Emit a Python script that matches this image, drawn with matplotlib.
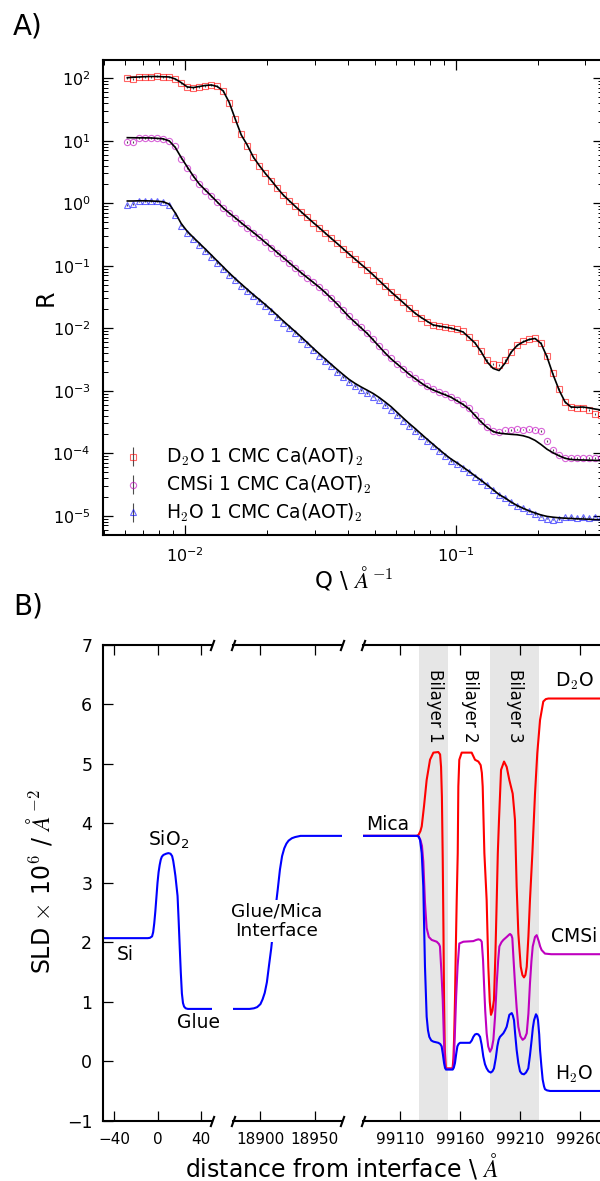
import matplotlib
matplotlib.use('Agg')
import matplotlib.pyplot as plt
from matplotlib.ticker import LogLocator, NullFormatter

plt.rcParams['font.family'] = ['DejaVu Sans']
plt.rcParams['mathtext.fontset'] = 'cm'
plt.rcParams['axes.linewidth'] = 1.5

# ---------------- A) reflectivity data (D2O x100, CMSi x10 offsets) ----------------
q = [0.006109, 0.006427, 0.006764, 0.007117, 0.007489, 0.007880, 0.008293, 0.008728, 0.009185, 0.009665,
     0.01017, 0.01070, 0.01126, 0.01185, 0.01247, 0.01312, 0.01381, 0.01453, 0.01529, 0.01609,
     0.01693, 0.01782, 0.01875, 0.01973, 0.02077, 0.02185, 0.02300, 0.02420, 0.02546, 0.02680,
     0.02820, 0.02967, 0.03122, 0.03286, 0.03457, 0.03638, 0.03828, 0.04029, 0.04240, 0.04461,
     0.04695, 0.04940, 0.05199, 0.05470, 0.05757, 0.06058, 0.06375, 0.06708, 0.07059, 0.07428,
     0.07817, 0.08226, 0.08657, 0.09109, 0.09585, 0.1009, 0.1061, 0.1117, 0.1175, 0.1237,
     0.1302, 0.1370, 0.1441, 0.1517, 0.1596, 0.1680, 0.1767, 0.1860, 0.1957, 0.2060,
     0.2167, 0.2280, 0.2400, 0.2525, 0.2657, 0.2796, 0.2942, 0.3096, 0.3258, 0.3428]

r_d2o = [101, 98.5, 105, 104, 106, 108, 105, 103, 96, 83,
         72, 70, 73, 76, 78.5, 76, 63, 40, 22, 12.6,
         8.4, 5.55, 4.0, 3.0, 2.3, 1.75, 1.36, 1.10, 0.89, 0.73,
         0.60, 0.49, 0.405, 0.335, 0.276, 0.228, 0.187, 0.154, 0.127, 0.105,
         0.087, 0.0715, 0.058, 0.0472, 0.0383, 0.0315, 0.0259, 0.0212, 0.0174, 0.0148,
         0.0128, 0.0113, 0.0109, 0.0106, 0.0102, 0.0096, 0.0089, 0.0072, 0.0058, 0.0043,
         0.0031, 0.0027, 0.0026, 0.0031, 0.0042, 0.0054, 0.0062, 0.0068, 0.0069, 0.0058,
         0.0036, 0.0019, 0.00106, 0.00066, 0.00055, 0.00054, 0.00054, 0.000493, 0.000425, 0.00041]
fit_d2o = [102.2, 103.8, 104.9, 106.1, 106.9, 106.5, 105.7, 104.9, 97.4, 85.0,
           72.6, 71.0, 73.9, 76.7, 78.1, 73.9, 62.6, 41.0, 22.3, 12.4,
           8.57, 5.51, 4.03, 3.02, 2.32, 1.76, 1.358, 1.100, 0.895, 0.729,
           0.597, 0.491, 0.407, 0.334, 0.275, 0.2274, 0.1871, 0.1539, 0.1271, 0.1053,
           0.0873, 0.0715, 0.0580, 0.0470, 0.0381, 0.0313, 0.0258, 0.0211, 0.0174, 0.0149,
           0.01294, 0.01129, 0.01084, 0.01045, 0.01004, 0.00939, 0.00873, 0.00710, 0.00580, 0.00421,
           0.00289, 0.00228, 0.00211, 0.00278, 0.00414, 0.00531, 0.00604, 0.00662, 0.00687, 0.00569,
           0.00347, 0.00182, 0.00103, 0.000662, 0.000550, 0.000545, 0.000550, 0.000532, 0.000511, 0.000493]

r_cmsi = [9.46, 9.60, 11.0, 11.2, 11.0, 10.9, 10.8, 10.1, 8.1, 5.2,
          3.7, 2.68, 2.0, 1.60, 1.29, 1.03, 0.83, 0.69, 0.58, 0.48,
          0.405, 0.339, 0.285, 0.236, 0.195, 0.162, 0.134, 0.111, 0.0925, 0.077,
          0.0648, 0.0545, 0.0458, 0.0377, 0.0307, 0.0248, 0.0196, 0.0155, 0.0127, 0.0104,
          0.0085, 0.0067, 0.0052, 0.0041, 0.0033, 0.00272, 0.00227, 0.00188, 0.0016, 0.00136,
          0.00118, 0.00106, 0.00097, 0.00089, 0.00081, 0.000705, 0.00062, 0.000525, 0.000412, 0.000325,
          0.000265, 0.000228, 0.000219, 0.000232, 0.000236, 0.000242, 0.000240, 0.000241, 0.000239, 0.000227,
          0.000157, 0.000113, 9.55e-05, 8.55e-05, 8.40e-05, 8.45e-05, 8.30e-05, 8.45e-05, 8.40e-05, 8.35e-05]
fit_cmsi = [11.21, 11.17, 11.13, 11.13, 11.09, 10.93, 10.72, 9.93, 7.81, 5.365,
            3.81, 2.734, 2.036, 1.632, 1.309, 1.049, 0.841, 0.6995, 0.586, 0.4875,
            0.4086, 0.3424, 0.2868, 0.2377, 0.1970, 0.1632, 0.1353, 0.1121, 0.0929, 0.0773,
            0.0648, 0.0543, 0.0455, 0.0374, 0.0303, 0.02447, 0.01927, 0.01516, 0.01238, 0.01011,
            0.00826, 0.00650, 0.00511, 0.00402, 0.00323, 0.00268, 0.00223, 0.00184, 0.001567, 0.001333,
            0.00115, 0.00103, 0.000939, 0.000863, 0.000787, 0.000687, 0.000604, 0.000511, 0.000402, 0.000317,
            0.000259, 0.000223, 0.000210, 0.000205, 0.000201, 0.000198, 0.000191, 0.000179, 0.000161, 0.000138,
            0.000116, 0.000102, 9.12e-05, 8.32e-05, 7.96e-05, 7.87e-05, 7.81e-05, 7.76e-05, 7.70e-05, 7.67e-05]

r_h2o = [0.939, 0.975, 1.07, 1.10, 1.08, 1.09, 1.05, 0.95, 0.64, 0.44,
         0.33, 0.265, 0.214, 0.173, 0.139, 0.111, 0.089, 0.0716, 0.0585, 0.0478,
         0.0395, 0.0326, 0.0272, 0.0227, 0.0187, 0.0152, 0.0123, 0.0101, 0.0083, 0.0068,
         0.00552, 0.00448, 0.00365, 0.00300, 0.00245, 0.00202, 0.00167, 0.00139, 0.00119, 0.00104,
         0.00092, 0.00081, 0.00070, 0.000595, 0.000500, 0.000408, 0.000333, 0.000274, 0.000228, 0.000188,
         0.000155, 0.000129, 0.000107, 8.95e-05, 7.60e-05, 6.65e-05, 5.75e-05, 4.95e-05, 4.25e-05, 3.62e-05,
         3.06e-05, 2.58e-05, 2.17e-05, 1.92e-05, 1.66e-05, 1.45e-05, 1.31e-05, 1.18e-05, 1.06e-05, 9.7e-06,
         9.0e-06, 8.7e-06, 8.9e-06, 9.4e-06, 9.6e-06, 9.2e-06, 9.5e-06, 9.3e-06, 9.7e-06, 9.4e-06]
fit_h2o = [1.088, 1.088, 1.096, 1.096, 1.088, 1.076, 1.057, 0.967, 0.6995, 0.4717,
           0.3551, 0.2847, 0.2299, 0.1857, 0.1489, 0.1193, 0.0957, 0.0767, 0.0624, 0.0511,
           0.0421, 0.0346, 0.0289, 0.0240, 0.01977, 0.01614, 0.01308, 0.01076, 0.00886, 0.00726,
           0.00591, 0.00480, 0.00392, 0.00323, 0.00265, 0.00219, 0.001816, 0.001516, 0.001308, 0.00115,
           0.001022, 0.000905, 0.000781, 0.000662, 0.000555, 0.000451, 0.000367, 0.000300, 0.000249, 0.000204,
           0.000168, 0.000139, 0.000115, 9.57e-05, 8.08e-05, 7.00e-05, 6.01e-05, 5.13e-05, 4.35e-05, 3.70e-05,
           3.11e-05, 2.61e-05, 2.19e-05, 1.93e-05, 1.66e-05, 1.46e-05, 1.32e-05, 1.20e-05, 1.11e-05, 1.03e-05,
           9.78e-06, 9.50e-06, 9.29e-06, 9.15e-06, 9.05e-06, 8.95e-06, 8.89e-06, 8.79e-06, 8.69e-06, 8.63e-06]

rel_err = 0.03  # error bars are tiny, roughly 3 %

legend_labels = [r'D$_2$O 1 CMC Ca(AOT)$_2$', r'CMSi 1 CMC Ca(AOT)$_2$', r'H$_2$O 1 CMC Ca(AOT)$_2$']

# ---------------- B) SLD profiles ----------------
# Si / SiO2 / glue (same for every contrast, only the H2O line shows on top)
sub_z = [-50, -20, -9, -7, -5, -4, -3, -2, -1, 0,
         1, 2, 3, 4, 5.5, 8, 10, 12, 13.5, 14.5,
         15.5, 16.5, 17.5, 18.5, 19.5, 20.5, 21.5, 22.5, 23.5, 24.5,
         26, 28, 50]
sub_sld = [2.07, 2.07, 2.07, 2.075, 2.10, 2.17, 2.32, 2.52, 2.76, 3.00,
           3.18, 3.30, 3.39, 3.44, 3.47, 3.49, 3.50, 3.49, 3.45, 3.37,
           3.25, 3.12, 2.95, 2.78, 2.37, 1.92, 1.49, 1.14, 0.98, 0.92,
           0.89, 0.88, 0.88]

# glue / mica interface
glue_z = [18875, 18890, 18894, 18897, 18900, 18902, 18904, 18906, 18908, 18910,
          18912, 18914, 18916, 18918, 18920, 18922, 18924, 18926, 18929, 18932,
          18937, 18975]
glue_sld = [0.88, 0.88, 0.89, 0.91, 0.96, 1.04, 1.15, 1.33, 1.62, 1.90,
            2.25, 2.58, 2.89, 3.22, 3.45, 3.58, 3.66, 3.71, 3.75, 3.77,
            3.79, 3.79]

# mica / bilayers / solvent
d2o_z = [99079, 99124, 99125.5, 99127, 99128.1, 99130, 99132.2, 99135, 99137.8, 99141.9,
         99143.4, 99144.2, 99144.9, 99145.6, 99146.2, 99146.7, 99147.3, 99148.2, 99153.8, 99154.5,
         99155.1, 99155.8, 99156.5, 99157.25, 99158.1, 99158.6, 99159.4, 99161.4, 99169.7, 99172.5,
         99175.3, 99177.2, 99178.2, 99178.9, 99180.3, 99182.2, 99183.6, 99184.8, 99185.8, 99187.0,
         99188.3, 99189.5, 99190.6, 99191.5, 99192.5, 99194.2, 99196.7, 99198.9, 99201.1, 99203.9,
         99205.0, 99205.8, 99207.2, 99208.6, 99210.6, 99212.0, 99213.3, 99214.5, 99215.6, 99217.0,
         99218.3, 99220.3, 99222.5, 99224.4, 99226.7, 99229.4, 99231.5, 99233.6, 99311]
d2o_sld = [3.79, 3.79, 3.81, 3.87, 3.95, 4.29, 4.73, 5.07, 5.19, 5.20,
           5.16, 4.95, 4.45, 3.40, 2.20, 1.03, 0.20, -0.12, -0.12, 0.05,
           0.40, 1.03, 1.90, 2.71, 3.50, 4.62, 5.07, 5.19, 5.19, 5.07,
           5.04, 4.98, 4.85, 4.62, 3.50, 2.71, 1.59, 1.00, 0.78, 0.85,
           1.03, 1.80, 2.71, 3.50, 4.06, 4.90, 5.04, 4.95, 4.73, 4.50,
           4.25, 4.06, 2.94, 2.15, 1.59, 1.45, 1.41, 1.45, 1.59, 2.10,
           2.71, 3.50, 4.50, 5.18, 5.74, 6.05, 6.09, 6.10, 6.10]

cmsi_z = [99079, 99124, 99125.5, 99127, 99128.3, 99129.4, 99130.8, 99132.2, 99134, 99136.4,
          99140.6, 99142.5, 99143.3, 99144.5, 99145.6, 99146.7, 99147.5, 99148.3, 99153.9, 99154.7,
          99155.6, 99156.8, 99158, 99159.4, 99162.8, 99171.1, 99173.5, 99175.3, 99177, 99178.1,
          99179.2, 99180, 99181, 99182.2, 99183.5, 99185, 99186.5, 99187.8, 99189.2, 99190.6,
          99191.8, 99192.8, 99194.5, 99196.1, 99198.9, 99201, 99201.7, 99202.8, 99203.6, 99204.5,
          99205.8, 99207.2, 99208.6, 99210.3, 99212.2, 99214, 99215.6, 99217, 99218.3, 99219.5,
          99220.6, 99222.5, 99223.9, 99225.6, 99226.8, 99228, 99230.8, 99236, 99311]
cmsi_sld = [3.79, 3.79, 3.78, 3.72, 3.62, 3.36, 2.67, 2.24, 2.09, 2.04,
            2.01, 1.97, 1.93, 1.50, 1.03, 0.30, -0.08, -0.13, -0.13, -0.05,
            0.40, 1.10, 1.60, 1.98, 2.01, 2.02, 2.04, 2.05, 2.04, 2.01,
            1.70, 1.31, 0.85, 0.47, 0.25, 0.16, 0.22, 0.36, 0.75, 1.31,
            1.70, 1.93, 2.00, 2.04, 2.09, 2.13, 2.14, 2.12, 2.07, 1.75,
            1.31, 0.90, 0.58, 0.42, 0.36, 0.39, 0.47, 0.80, 1.31, 1.68,
            1.93, 2.09, 2.12, 2.02, 1.93, 1.87, 1.81, 1.80, 1.80]

h2o_z = [99079, 99124, 99125.5, 99126.7, 99128.1, 99129.4, 99130.8, 99132.2, 99133.3, 99134.4,
         99136, 99137.8, 99141.9, 99143.5, 99144.7, 99145.7, 99146.7, 99147.5, 99148.3, 99153.9,
         99154.8, 99155.8, 99156.8, 99157.8, 99158.8, 99160, 99168.3, 99169.8, 99171.1, 99172.5,
         99173.9, 99175.3, 99176.7, 99178, 99179.4, 99180.8, 99182.2, 99183.8, 99185.6, 99187,
         99188.3, 99189.8, 99191.1, 99192.2, 99193.3, 99196.1, 99197.5, 99198.9, 99200, 99201.1,
         99203.1, 99204, 99205, 99206, 99207.2, 99208.6, 99210, 99211.5, 99213.3, 99215,
         99216.9, 99218.3, 99219.7, 99220.7, 99221.7, 99223.3, 99224.2, 99225, 99226, 99226.7,
         99227.8, 99228.9, 99230, 99230.8, 99232.5, 99235, 99311]
h2o_sld = [3.79, 3.79, 3.78, 3.72, 3.50, 2.94, 1.59, 0.75, 0.52, 0.41,
           0.35, 0.33, 0.31, 0.29, 0.25, 0.12, -0.03, -0.11, -0.14, -0.14,
           -0.11, -0.03, 0.12, 0.25, 0.29, 0.31, 0.31, 0.35, 0.41, 0.45,
           0.46, 0.45, 0.41, 0.28, 0.08, -0.05, -0.12, -0.17, -0.19, -0.17,
           -0.12, 0.05, 0.25, 0.36, 0.41, 0.47, 0.52, 0.58, 0.68, 0.78,
           0.81, 0.77, 0.69, 0.45, 0.19, -0.03, -0.17, -0.21, -0.22, -0.19,
           -0.12, 0.10, 0.36, 0.56, 0.69, 0.79, 0.76, 0.69, 0.45, 0.19,
           -0.08, -0.31, -0.42, -0.47, -0.49, -0.50, -0.50]

bilayer_spans = [(99126.1, 99149.7), (99185.0, 99225.8)]
bilayer_labels = ['Bilayer 1', 'Bilayer 2', 'Bilayer 3']

RED, MAG, BLUE = '#ff0000', '#bf00bf', '#0000ff'

W, H = 600, 1181
fig = plt.figure(figsize=(W / 100, H / 100), dpi=100)


def add_axes_px(left, top, right, bottom):
    # axes box in pixels of the 600x1181 canvas
    return fig.add_axes([left / W, 1 - bottom / H, (right - left) / W, (bottom - top) / H])


# ================= A) =================
ax1 = add_axes_px(103.3, 60, 602.5, 535)
ax1.set_xscale('log')
ax1.set_yscale('log')

series = [
    (r_d2o, fit_d2o, 's', (1, 0, 0, 0.6)),
    (r_cmsi, fit_cmsi, 'o', (0.75, 0, 0.75, 0.6)),
    (r_h2o, fit_h2o, '^', (0, 0, 1, 0.6)),
]
handles = []
for r, fit, mk, col in series:
    err = [v * rel_err for v in r]
    h = ax1.errorbar(q, r, yerr=err, fmt=mk, ms=4.5, mfc='none', mec=col, mew=0.8,
                     ecolor=(0, 0, 0, 0.7), elinewidth=0.8, capsize=0)
    handles.append(h)
    ax1.plot(q, fit, color='k', lw=1.2, zorder=3)

ax1.set_xlim(0.00498, 0.3472)
ax1.set_ylim(4.93e-6, 196)
ax1.xaxis.set_major_locator(LogLocator(base=10, numticks=10))
ax1.xaxis.set_minor_locator(LogLocator(base=10, subs=[2, 3, 4, 5, 6, 7, 8, 9], numticks=20))
ax1.yaxis.set_major_locator(LogLocator(base=10, numticks=20))
ax1.yaxis.set_minor_locator(LogLocator(base=10, subs=[2, 3, 4, 5, 6, 7, 8, 9], numticks=40))
ax1.xaxis.set_minor_formatter(NullFormatter())
ax1.yaxis.set_minor_formatter(NullFormatter())
ax1.tick_params(which='both', direction='in', top=True, right=True)
ax1.tick_params(which='major', length=7.5, width=0.9, labelsize=11.5)
ax1.tick_params(which='minor', length=3.8, width=0.7)
ax1.tick_params(axis='x', pad=8)
ax1.tick_params(axis='y', pad=9)

ax1.legend(handles, legend_labels, loc='lower left', bbox_to_anchor=(0.041, 0.023),
           frameon=False, fontsize=13.5, handlelength=1.0, handletextpad=1.25,
           labelspacing=0.3, borderpad=0, borderaxespad=0, numpoints=1)

fig.text(53 / W, 1 - 297.5 / H, 'R', rotation=90, ha='center', va='baseline',
         rotation_mode='anchor', fontsize=17)
fig.text(354 / W, 1 - 588 / H, r'Q \ $\AA^{-1}$', ha='center', va='baseline', fontsize=16.5)
fig.text(13 / W, 1 - 35 / H, 'A)', ha='left', va='baseline', fontsize=20)

# ================= B) =================
ax_a = add_axes_px(103.3, 645, 211.7, 1120.7)
ax_b = add_axes_px(233.3, 645, 341.7, 1120.7)
ax_c = add_axes_px(363.3, 645, 640, 1120.7)

ax_a.plot(sub_z, sub_sld, color=BLUE, lw=1.5)
ax_b.plot(glue_z, glue_sld, color=BLUE, lw=1.5)
ax_c.plot(d2o_z, d2o_sld, color=RED, lw=1.5)
ax_c.plot(cmsi_z, cmsi_sld, color=MAG, lw=1.5)
ax_c.plot(h2o_z, h2o_sld, color=BLUE, lw=1.5)
for lo, hi in bilayer_spans:
    ax_c.axvspan(lo, hi, color='0.9', lw=0, zorder=0)

ax_a.set_xlim(-50, 50)
ax_b.set_xlim(18875, 18975)
ax_c.set_xlim(99079.4, 99310)
ax_a.set_xticks([-40, 0, 40])
ax_b.set_xticks([18900, 18950])
ax_c.set_xticks([99110, 99160, 99210, 99260])
ax_a.set_yticks(range(-1, 8))

for ax in (ax_a, ax_b, ax_c):
    ax.set_ylim(-1, 7)
    ax.tick_params(axis='x', direction='in', top=True, bottom=True, length=7.5,
                   width=0.9, labelsize=11, pad=8)
for ax in (ax_b, ax_c):
    ax.ticklabel_format(axis='x', useOffset=False, style='plain')
    ax.tick_params(axis='y', left=False, right=False, labelleft=False)
ax_a.tick_params(axis='y', direction='in', left=True, right=False, length=7.5,
                 width=0.9, labelsize=12.5, pad=8)

ax_a.spines['right'].set_visible(False)
ax_b.spines['left'].set_visible(False)
ax_b.spines['right'].set_visible(False)
ax_c.spines['left'].set_visible(False)

# axis-break slashes
slash = [(-0.36, -1.0), (0.36, 1.0)]
for ax, xs in ((ax_a, [1]), (ax_b, [0, 1]), (ax_c, [0])):
    for x in xs:
        ax.plot([x, x], [0, 1], transform=ax.transAxes, ls='none', marker=slash,
                ms=8, mec='k', mew=1.5, clip_on=False, zorder=6)

lab_kw = dict(ha='center', va='baseline', fontsize=13.5)
ax_a.text(10.5, 3.62, r'SiO$_{\mathdefault{2}}$', **lab_kw)
ax_a.text(-30, 1.70, 'Si', **lab_kw)
ax_a.text(38, 0.56, 'Glue', **lab_kw)
ax_b.text(18915.3, 2.36, 'Glue/Mica\nInterface', ha='center', va='center', fontsize=13.3,
          linespacing=1.1, bbox=dict(fc='white', ec='none', pad=1.5), zorder=4)
ax_c.text(99100, 3.89, 'Mica', **lab_kw)
ax_c.text(99255, 6.30, r'D$_2$O', **lab_kw)
ax_c.text(99255, 2.01, 'CMSi', **lab_kw)
ax_c.text(99255, -0.32, r'H$_2$O', **lab_kw)
for xc, lab in zip([99139.2, 99168.3, 99205.8], bilayer_labels):
    ax_c.text(xc, 5.98, lab, rotation=270, ha='center', va='center', fontsize=12)

fig.text(50 / W, 1 - 882 / H, r'SLD $\times$ 10$^{6}$ / $\AA^{-2}$', rotation=90,
         ha='center', va='baseline', rotation_mode='anchor', fontsize=17)
fig.text(341.7 / W, 1 - 1176.5 / H, r'distance from interface \ $\AA$', ha='center',
         va='baseline', fontsize=17)
fig.text(13 / W, 1 - 614 / H, 'B)', ha='left', va='baseline', fontsize=20)

fig.savefig('out.png', dpi=100)
